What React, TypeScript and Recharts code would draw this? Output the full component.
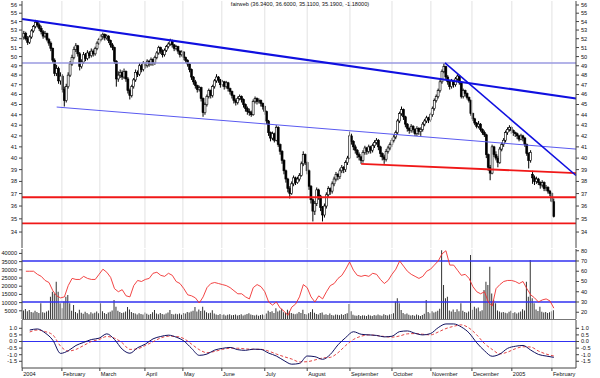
import { ComposedChart, Bar, Line, XAxis, YAxis, ReferenceLine } from 'recharts'

// daily candles [open, high, low, close], Jan 2004 - Feb 2005
const candles: [number, number, number, number][] = [
  [52.2, 52.9, 51.9, 52.6], [52.6, 52.8, 51.8, 52.0], [52.0, 52.3, 51.3, 51.6], [51.6, 52.4, 51.4, 52.2], [52.2, 53.1, 52.0, 52.9],
  [52.9, 53.6, 52.7, 53.4], [53.4, 54.2, 53.2, 53.9], [53.9, 54.1, 53.3, 53.6], [53.6, 53.8, 52.9, 53.2], [53.2, 53.5, 52.5, 52.8],
  [52.8, 53.0, 52.0, 52.3], [52.3, 52.9, 52.1, 52.6], [52.6, 52.7, 51.7, 51.9], [51.9, 52.1, 51.2, 51.5], [51.5, 51.7, 50.6, 50.9],
  [50.9, 51.0, 49.3, 49.6], [49.6, 49.8, 47.9, 48.2], [48.2, 49.1, 47.9, 48.7], [48.7, 48.9, 47.1, 47.4], [47.4, 48.3, 47.0, 47.9],
  [47.9, 48.1, 46.2, 46.5], [46.5, 46.8, 44.8, 45.4], [45.4, 47.1, 45.2, 46.8], [46.8, 48.3, 46.6, 48.0], [48.0, 49.5, 47.8, 49.2],
  [49.2, 50.2, 49.0, 49.9], [49.9, 51.1, 49.7, 50.8], [50.8, 51.5, 50.5, 51.2], [51.2, 51.3, 50.0, 50.3], [50.3, 50.5, 48.5, 48.9],
  [48.9, 49.7, 48.7, 49.4], [49.4, 50.5, 49.2, 50.2], [50.2, 50.4, 49.5, 49.8], [49.8, 50.7, 49.6, 50.4], [50.4, 50.6, 49.8, 50.1],
  [50.1, 50.9, 49.9, 50.6], [50.6, 50.8, 50.0, 50.3], [50.3, 51.1, 50.1, 50.9], [50.9, 51.7, 50.7, 51.5], [51.5, 52.1, 51.3, 51.9],
  [51.9, 52.5, 51.7, 52.3], [52.3, 52.7, 51.9, 52.5], [52.5, 52.6, 51.8, 52.1], [52.1, 52.5, 51.9, 52.3], [52.3, 52.4, 51.5, 51.8],
  [51.8, 51.9, 51.0, 51.3], [51.3, 51.5, 50.7, 51.0], [51.0, 51.1, 49.2, 49.5], [49.5, 49.6, 46.8, 47.6], [47.6, 48.4, 47.3, 48.0],
  [48.0, 48.6, 47.7, 48.3], [48.3, 48.5, 47.5, 47.8], [47.8, 48.7, 47.6, 48.4], [48.4, 48.5, 47.3, 47.6], [47.6, 47.8, 46.1, 46.4],
  [46.4, 46.6, 45.5, 45.9], [45.9, 47.0, 45.7, 46.8], [46.8, 47.7, 46.6, 47.5], [47.5, 48.6, 47.3, 48.3], [48.3, 48.5, 47.8, 48.1],
  [48.1, 49.3, 47.9, 49.0], [49.0, 49.2, 48.3, 48.6], [48.6, 49.5, 48.4, 49.3], [49.3, 49.4, 48.7, 49.0], [49.0, 49.7, 48.8, 49.5],
  [49.5, 49.6, 48.9, 49.2], [49.2, 49.9, 49.0, 49.7], [49.7, 49.8, 49.0, 49.3], [49.3, 50.1, 49.1, 49.9], [49.9, 50.6, 49.7, 50.4],
  [50.4, 51.2, 50.2, 51.0], [51.0, 51.1, 50.3, 50.6], [50.6, 50.8, 49.9, 50.2], [50.2, 50.9, 50.0, 50.7], [50.7, 51.3, 50.5, 51.1],
  [51.1, 51.6, 50.9, 51.4], [51.4, 52.0, 51.2, 51.8], [51.8, 51.9, 51.0, 51.3], [51.3, 51.4, 50.6, 50.9], [50.9, 51.3, 50.7, 51.1],
  [51.1, 51.2, 50.3, 50.6], [50.6, 50.7, 49.9, 50.2], [50.2, 50.7, 50.0, 50.5], [50.5, 50.6, 49.6, 49.9], [49.9, 50.0, 49.3, 49.6],
  [49.6, 49.7, 48.9, 49.2], [49.2, 49.3, 48.3, 48.6], [48.6, 48.7, 47.5, 47.8], [47.8, 47.9, 47.0, 47.3], [47.3, 47.5, 46.6, 46.9],
  [46.9, 47.0, 46.2, 46.5], [46.5, 46.9, 46.3, 46.7], [46.7, 46.8, 45.3, 45.6], [45.6, 45.7, 43.8, 44.2], [44.2, 45.2, 44.0, 45.0],
  [45.0, 46.0, 44.8, 45.8], [45.8, 46.6, 45.6, 46.4], [46.4, 46.5, 45.6, 45.9], [45.9, 47.0, 45.7, 46.8], [46.8, 47.6, 46.6, 47.4],
  [47.4, 48.1, 47.2, 47.8], [47.8, 47.9, 47.2, 47.5], [47.5, 47.6, 46.7, 47.0], [47.0, 47.5, 46.8, 47.3], [47.3, 47.4, 46.5, 46.8],
  [46.8, 47.4, 46.6, 47.2], [47.2, 47.3, 46.3, 46.6], [46.6, 46.7, 46.0, 46.3], [46.3, 46.4, 45.6, 45.9], [45.9, 46.0, 45.1, 45.4],
  [45.4, 45.6, 44.9, 45.2], [45.2, 45.8, 45.0, 45.6], [45.6, 46.0, 45.4, 45.8], [45.8, 45.9, 45.2, 45.5], [45.5, 45.6, 44.7, 45.0],
  [45.0, 45.1, 44.3, 44.6], [44.6, 44.8, 44.0, 44.3], [44.3, 44.6, 43.9, 44.2], [44.2, 44.4, 43.8, 44.0], [44.0, 45.5, 43.9, 45.3],
  [45.3, 45.8, 45.1, 45.6], [45.6, 45.7, 45.0, 45.3], [45.3, 45.6, 45.1, 45.4], [45.4, 45.5, 44.8, 45.1], [45.1, 45.2, 44.5, 44.8],
  [44.8, 44.9, 44.0, 44.3], [44.3, 44.4, 43.1, 43.4], [43.4, 43.5, 42.0, 42.3], [42.3, 42.4, 41.5, 41.8], [41.8, 42.4, 41.6, 42.2],
  [42.2, 42.3, 41.4, 41.6], [41.6, 43.0, 41.5, 42.8], [42.8, 42.9, 41.0, 41.2], [41.2, 41.3, 40.3, 40.6], [40.6, 40.7, 39.5, 39.8],
  [39.8, 39.9, 38.6, 38.9], [38.9, 39.0, 37.9, 38.2], [38.2, 38.3, 37.1, 37.4], [37.4, 37.6, 36.6, 37.0], [37.0, 38.0, 36.9, 37.8],
  [37.8, 38.5, 37.6, 38.3], [38.3, 38.4, 37.7, 37.9], [37.9, 38.4, 37.8, 38.2], [38.2, 38.7, 38.0, 38.5], [38.5, 39.7, 38.4, 39.5],
  [39.5, 40.6, 39.3, 40.3], [40.3, 40.4, 39.4, 39.6], [39.6, 39.7, 38.6, 38.9], [38.9, 39.0, 37.3, 37.6], [37.6, 37.7, 36.2, 36.5],
  [36.5, 36.6, 34.8, 35.6], [35.6, 36.4, 35.3, 36.2], [36.2, 37.5, 36.0, 37.3], [37.3, 37.4, 36.5, 36.8], [36.8, 36.9, 35.6, 35.9],
  [35.9, 36.0, 34.8, 35.3], [35.3, 36.2, 35.1, 36.0], [36.0, 37.1, 35.8, 36.9], [36.9, 37.6, 36.7, 37.4], [37.4, 37.5, 36.9, 37.2],
  [37.2, 38.0, 37.0, 37.8], [37.8, 38.4, 37.6, 38.2], [38.2, 38.8, 38.0, 38.6], [38.6, 38.7, 38.1, 38.4], [38.4, 39.1, 38.2, 38.9],
  [38.9, 39.4, 38.7, 39.2], [39.2, 39.3, 38.7, 39.0], [39.0, 39.8, 38.8, 39.6], [39.6, 40.2, 39.4, 40.0], [40.0, 42.4, 39.9, 42.0],
  [42.0, 42.2, 41.2, 41.5], [41.5, 41.6, 40.7, 41.0], [41.0, 41.2, 40.4, 40.7], [40.7, 40.8, 40.0, 40.3], [40.3, 40.5, 39.8, 40.1],
  [40.1, 40.2, 39.5, 39.8], [39.8, 40.7, 39.6, 40.5], [40.5, 41.1, 40.3, 40.9], [40.9, 41.0, 40.3, 40.6], [40.6, 41.2, 40.4, 41.0],
  [41.0, 41.1, 40.4, 40.7], [40.7, 41.3, 40.5, 41.1], [41.1, 41.6, 40.9, 41.4], [41.4, 41.8, 41.2, 41.6], [41.6, 41.7, 40.7, 41.0],
  [41.0, 41.1, 40.1, 40.4], [40.4, 40.5, 39.8, 40.1], [40.1, 40.3, 39.5, 39.9], [39.9, 40.8, 39.7, 40.6], [40.6, 41.1, 40.4, 40.9],
  [40.9, 41.4, 40.7, 41.2], [41.2, 41.8, 41.0, 41.6], [41.6, 42.1, 41.4, 41.9], [41.9, 42.5, 41.7, 42.3], [42.3, 43.6, 42.1, 43.4],
  [43.4, 44.3, 43.2, 44.1], [44.1, 44.8, 43.9, 44.5], [44.5, 44.6, 43.5, 43.8], [43.8, 43.9, 42.8, 43.1], [43.1, 43.2, 42.4, 42.7],
  [42.7, 42.8, 42.2, 42.5], [42.5, 43.1, 42.3, 42.9], [42.9, 43.0, 42.3, 42.6], [42.6, 42.7, 42.0, 42.2], [42.2, 42.9, 42.0, 42.7],
  [42.7, 42.8, 42.1, 42.4], [42.4, 42.8, 42.0, 42.6], [42.6, 43.3, 42.4, 43.1], [43.1, 43.6, 42.9, 43.4], [43.4, 43.9, 43.2, 43.7],
  [43.7, 43.8, 43.2, 43.5], [43.5, 44.2, 43.3, 44.0], [44.0, 44.8, 43.8, 44.6], [44.6, 45.6, 44.4, 45.4], [45.4, 46.0, 45.2, 45.8],
  [45.8, 46.6, 45.6, 46.4], [46.4, 47.5, 46.2, 47.3], [47.3, 48.6, 47.1, 48.4], [48.4, 49.3, 48.2, 48.9], [48.9, 49.0, 47.5, 47.8],
  [47.8, 48.0, 47.0, 47.3], [47.3, 47.4, 46.5, 46.8], [46.8, 47.6, 46.6, 47.4], [47.4, 47.5, 46.7, 47.0], [47.0, 47.8, 46.8, 47.6],
  [47.6, 48.1, 47.4, 47.9], [47.9, 48.0, 47.0, 47.2], [47.2, 47.3, 45.6, 45.8], [45.8, 46.6, 45.6, 46.4], [46.4, 46.5, 45.8, 46.1],
  [46.1, 46.2, 45.5, 45.7], [45.7, 45.8, 45.2, 45.4], [45.4, 45.5, 43.9, 44.1], [44.1, 44.2, 43.4, 43.6], [43.6, 43.7, 43.0, 43.2],
  [43.2, 43.3, 42.7, 42.9], [42.9, 43.4, 42.7, 43.1], [43.1, 43.2, 42.4, 42.6], [42.6, 42.7, 42.1, 42.3], [42.3, 42.5, 41.9, 42.1],
  [42.1, 42.2, 40.0, 40.3], [40.3, 40.4, 38.9, 39.2], [39.2, 39.4, 38.1, 38.7], [38.7, 41.2, 38.6, 41.0], [41.0, 41.1, 40.1, 40.3],
  [40.3, 40.6, 39.8, 40.0], [40.0, 40.2, 39.2, 39.6], [39.6, 41.0, 39.5, 40.8], [40.8, 41.4, 40.6, 41.2], [41.2, 41.8, 41.0, 41.6],
  [41.6, 42.5, 41.4, 42.3], [42.3, 42.8, 42.1, 42.6], [42.6, 43.0, 42.4, 42.8], [42.8, 42.9, 42.2, 42.5], [42.5, 42.6, 42.0, 42.3],
  [42.3, 42.4, 41.9, 42.2], [42.2, 42.3, 41.7, 42.0], [42.0, 42.1, 41.5, 41.7], [41.7, 42.2, 41.6, 42.0], [42.0, 42.1, 41.5, 41.8],
  [41.8, 41.9, 41.0, 41.2], [41.2, 41.3, 40.2, 40.4], [40.4, 40.5, 39.1, 39.8], [39.8, 40.7, 39.6, 40.5], [38.6, 38.9, 37.8, 38.3],
  [38.3, 38.5, 37.7, 38.0], [38.0, 38.4, 37.8, 38.2], [38.2, 38.3, 37.7, 37.9], [37.9, 38.0, 37.4, 37.7], [37.7, 38.1, 37.5, 37.9],
  [37.9, 38.0, 37.2, 37.4], [37.4, 37.7, 37.2, 37.5], [37.5, 37.6, 37.0, 37.2], [37.2, 37.3, 36.8, 37.0], [37.0, 37.1, 36.3, 36.37],
  [36.34, 36.6, 35.11, 35.19],
]

const volumes = [
  5200, 6100, 4800, 5500, 4300, 3900, 5000, 4200, 3600, 9600,
  4100, 3800, 4500, 5200, 13600, 16600, 15600, 22700, 16600, 9600,
  6500, 10600, 13600, 14700, 9600, 5000, 8500, 4200, 3500, 5600,
  3800, 3200, 4400, 3600, 2900, 4100, 3300, 3800, 4600, 3500,
  9600, 4800, 3600, 3100, 3900, 4400, 5200, 11600, 7500, 5100,
  4300, 3700, 3900, 4600, 7300, 5800, 4200, 3600, 3300, 2800,
  3500, 3000, 2700, 3900, 3200, 2600, 3100, 4100, 5500, 3300,
  2900, 3600, 3100, 2800, 3400, 4000, 5500, 3000, 2700, 3200,
  2900, 3400, 2600, 3700, 3300, 4200, 3900, 4500, 5100, 7300,
  4600, 5800, 4900, 7500, 5200, 4100, 3500, 3800, 5400, 3300,
  2800, 2500, 3000, 2400, 2700, 2200, 2600, 2900, 2300, 2500,
  2700, 2200, 2400, 2900, 2100, 2600, 3100, 3500, 2800, 2400,
  2200, 2600, 2000, 2400, 2800, 2300, 3400, 5000, 4200, 4800,
  3700, 6500, 4600, 5200, 6300, 4100, 3600, 5600, 4800, 3700,
  3200, 2900, 3300, 4200, 3600, 5600, 3100, 2800, 3500, 4300,
  5900, 3800, 3100, 2700, 3600, 4000, 2600, 2900, 2400, 3300,
  2500, 2200, 2800, 2600, 2300, 2900, 2500, 3100, 3500, 9200,
  4800, 2600, 2200, 2000, 2400, 1900, 2300, 2100, 1800, 2600,
  2200, 1900, 2400, 2100, 2700, 2300, 2000, 2900, 2500, 2200,
  2800, 3000, 3500, 10600, 12600, 9600, 5500, 3600, 2900, 3300,
  2600, 2200, 2400, 2000, 2700, 2300, 1900, 2500, 3200, 11600,
  4200, 3500, 4700, 3900, 4400, 5100, 6200, 42000, 20700, 12600,
  13600, 5200, 4600, 5800, 4300, 5900, 4800, 9600, 5100, 4200,
  3800, 4500, 39000, 5600, 7500, 6400, 7000, 4800, 5300, 17700,
  22700, 20700, 31900, 15600, 11600, 9600, 5200, 4600, 3900, 4200,
  3800, 3500, 4400, 5000, 3700, 4100, 3300, 3900, 4500, 6000,
  5200, 22700, 13600, 36000, 12600, 9600, 5800, 4900, 7500, 4400,
  3900, 4300, 3600, 4100, 4800, 5400,
]

// RSI read every second trading day (days 1, 3, 5, ... 275)
const rsi = [
  60, 60, 60, 57, 55, 51, 49, 41, 36, 34,
  35, 46, 53, 52, 52, 55, 53, 52, 52, 57,
  62, 59, 54, 43, 40, 42, 36, 35, 46, 51,
  50, 52, 53, 58, 59, 56, 55, 58, 56, 50,
  48, 43, 37, 36, 34, 29, 35, 44, 48, 49,
  48, 47, 46, 44, 41, 38, 38, 35, 33, 44,
  47, 45, 40, 30, 27, 30, 24, 21, 17, 25,
  28, 35, 47, 44, 35, 30, 36, 33, 40, 46,
  48, 53, 56, 62, 69, 61, 56, 55, 56, 55,
  58, 57, 52, 48, 51, 57, 62, 70, 65, 60,
  57, 55, 53, 55, 60, 62, 66, 70, 77, 80,
  66, 66, 61, 56, 57, 53, 45, 40, 38, 40,
  30, 26, 43, 47, 50, 51, 51, 50, 48, 50,
  43, 37, 34, 30, 32, 33, 31, 24,
]

// MACD and signal read every fourth trading day (days 3, 7, 11, ... 275)
const macd = [
  0.87, 0.95, 0.65, 0.1, -0.9, -0.7, -0.3, -0.07, 0.15, 0.25,
  0.58, 0.15, -0.58, -0.89, -0.47, -0.2, 0.2, 0.38, 0.48, 0.33,
  0.04, -0.52, -1.05, -0.95, -0.65, -0.52, -0.45, -0.62, -0.67, -0.58,
  -0.6, -0.88, -1.1, -1.45, -1.72, -1.66, -1.1, -1.15, -1.35, -0.98,
  -0.25, 0.3, 0.74, 0.55, 0.5, 0.46, 0.35, 0.4, 0.75, 0.8,
  0.62, 0.5, 0.6, 1.05, 1.33, 1.33, 1.1, 0.65, -0.1, -0.7,
  -1.12, -0.95, -0.52, -0.36, -0.3, -0.65, -0.98, -1.1, -1.2,
]
const signal = [
  0.72, 0.87, 0.75, 0.5, -0.35, -0.72, -0.6, -0.3, 0.0, 0.15,
  0.38, 0.25, -0.1, -0.6, -0.55, -0.3, -0.02, 0.27, 0.4, 0.38,
  0.22, -0.2, -0.62, -0.85, -0.75, -0.6, -0.51, -0.51, -0.56, -0.59,
  -0.59, -0.73, -0.95, -1.15, -1.33, -1.55, -1.53, -1.4, -1.25, -1.2,
  -0.85, -0.3, 0.15, 0.4, 0.5, 0.45, 0.38, 0.33, 0.42, 0.58,
  0.6, 0.55, 0.5, 0.72, 0.98, 1.15, 1.26, 1.02, 0.5, -0.15,
  -0.6, -0.94, -0.8, -0.55, -0.4, -0.42, -0.72, -0.95, -1.1,
]

const monthTicks = [-0.9, 19.7, 39.4, 62.8, 82.5, 102.7, 125, 147, 169.2, 191, 211.2, 232.5, 253.2, 274]
const monthLabels = ['2004', 'February', 'March', 'April', 'May', 'June', 'July', 'August', 'September', 'October', 'November', 'December', '2005', 'February']

const priceTicks = [34, 35, 36, 37, 38, 39, 40, 41, 42, 43, 44, 45, 46, 47, 48, 49, 50, 51, 52, 53, 54, 55, 56]
const volumeTicks = [5000, 10000, 15000, 20000, 25000, 30000, 35000, 40000]
const rsiTicks = [20, 30, 40, 50, 60, 70, 80]
const macdTicks = [-1.5, -1.0, -0.5, 0.0, 0.5, 1.0]

// trend lines drawn on the price panel: [startDay, startPrice, endDay, endPrice]
const blueTrends: [number, number, number, number][] = [[-1, 54.3, 286.5, 45.6], [218.5, 49.3, 286.5, 38.5]]
const thinBlueTrends: [number, number, number, number][] = [[17, 44.75, 286.5, 40.8]]
const redTrends: [number, number, number, number][] = [[175, 39.5, 286.5, 38.7], [-1, 36.7, 286.5, 36.7], [-1, 34.66, 286.5, 34.66]]
const resistance = 49.3

const FONT = 'Liberation Sans, Arial, sans-serif'
const X_DOMAIN: [number, number] = [-1, 286.5]
const LN56 = Math.log(56)
const PRICE_DOMAIN: [number, number] = [LN56 - 243 / 455, LN56 + 4 / 455]
const tickStyle = { fontSize: 5.6, fill: '#111', fontFamily: FONT }
const AXIS = '#444'
const GRID = '#e2e2e2'

const priceRows = candles.map(([o, h, l, c], i) => ({
  day: i,
  range: [Math.log(l), Math.log(h)],
  op: Math.log(o),
  cl: Math.log(c),
  hi: Math.log(h),
  lo: Math.log(l),
}))
const volumeRows = volumes.map((v, i) => ({ day: i, vol: v, rsi: i % 2 === 1 ? rsi[(i - 1) / 2] : undefined }))
const macdRows = macd.map((m, k) => ({ day: 3 + 4 * k, macd: m, signal: signal[k] }))

function Candle(props: any) {
  const { x, y, width, height, payload } = props
  if (!payload || !isFinite(y) || !isFinite(height)) return null
  const { op, cl, hi, lo } = payload
  const span = hi - lo
  const py = (v: number) => (span > 0 ? y + (height * (hi - v)) / span : y)
  const cx = x + width / 2
  const top = py(Math.max(op, cl))
  const bot = py(Math.min(op, cl))
  const up = cl >= op
  return (
    <g>
      <line x1={cx} x2={cx} y1={y} y2={y + height} stroke="#000" strokeWidth={1} />
      <rect x={cx - 1} y={top} width={2} height={Math.max(bot - top, 0.8)} fill={up ? '#fff' : '#000'} stroke="#000" strokeWidth={0.6} />
    </g>
  )
}

function MonthTick(props: any) {
  const { x, y, payload } = props
  const label = monthLabels[monthTicks.indexOf(payload.value)]
  return (
    <text x={x + 1} y={y + 3} fontSize={5.6} fontFamily={FONT} fill="#111" textAnchor="start">
      {label}
    </text>
  )
}

const gridLines = (axisId: string) =>
  monthTicks.slice(1).map((d) => <ReferenceLine key={`g${d}`} x={d} yAxisId={axisId} stroke={GRID} strokeWidth={1} />)

export default function App() {
  return (
    <div style={{ position: 'absolute', left: 0, top: 0, width: 600, height: 378, background: '#fff', overflow: 'hidden' }}>
      <div style={{ position: 'absolute', left: 0, top: 0 }}>
        <ComposedChart width={600} height={248} data={priceRows} margin={{ top: 1, right: 0, bottom: 0, left: 0 }}>
          <XAxis dataKey="day" type="number" domain={X_DOMAIN} allowDataOverflow hide />
          <YAxis yAxisId="l" type="number" domain={PRICE_DOMAIN} allowDataOverflow width={22} ticks={priceTicks.map(Math.log)}
            tickFormatter={(v: number) => String(Math.round(Math.exp(v)))} tick={tickStyle} tickSize={3} stroke={AXIS} interval={0} />
          <YAxis yAxisId="r" orientation="right" type="number" domain={PRICE_DOMAIN} allowDataOverflow width={24} ticks={priceTicks.map(Math.log)}
            tickFormatter={(v: number) => String(Math.round(Math.exp(v)))} tick={tickStyle} tickSize={3} stroke={AXIS} interval={0} />
          {gridLines('l')}
          <ReferenceLine yAxisId="l" y={Math.log(resistance)} stroke="#9a9ae0" strokeWidth={1.3} />
          {thinBlueTrends.map(([d1, p1, d2, p2], k) => (
            <ReferenceLine key={`tb${k}`} yAxisId="l" ifOverflow="visible" stroke="#5a5af0" strokeWidth={1}
              segment={[{ x: d1, y: Math.log(p1) }, { x: d2, y: Math.log(p2) }]} />
          ))}
          {redTrends.map(([d1, p1, d2, p2], k) => (
            <ReferenceLine key={`r${k}`} yAxisId="l" ifOverflow="visible" stroke="#f01818" strokeWidth={1.8}
              segment={[{ x: d1, y: Math.log(p1) }, { x: d2, y: Math.log(p2) }]} />
          ))}
          <Bar yAxisId="l" dataKey="range" barSize={2} isAnimationActive={false} shape={(p: any) => <Candle {...p} />} />
          {blueTrends.map(([d1, p1, d2, p2], k) => (
            <ReferenceLine key={`b${k}`} yAxisId="l" ifOverflow="visible" stroke="#1010e0" strokeWidth={k === 0 ? 2.2 : 1.6}
              segment={[{ x: d1, y: Math.log(p1) }, { x: d2, y: Math.log(p2) }]} />
          ))}
        </ComposedChart>
      </div>
      <div style={{ position: 'absolute', left: 0, top: 249 }}>
        <ComposedChart width={600} height={70} data={volumeRows} margin={{ top: 0, right: 0, bottom: 0, left: 0 }}>
          <XAxis dataKey="day" type="number" domain={X_DOMAIN} allowDataOverflow hide />
          <YAxis yAxisId="l" type="number" domain={[0, 42700]} allowDataOverflow width={22} ticks={volumeTicks}
            tick={tickStyle} tickSize={3} stroke={AXIS} interval={0} />
          <YAxis yAxisId="r" orientation="right" type="number" domain={[13.4, 81.7]} allowDataOverflow width={24} ticks={rsiTicks}
            tick={tickStyle} tickSize={3} stroke={AXIS} interval={0} />
          {gridLines('l')}
          <Bar yAxisId="l" dataKey="vol" barSize={1} fill="#333" isAnimationActive={false} />
          <ReferenceLine yAxisId="r" y={70} stroke="#3030f0" strokeWidth={1.3} />
          <ReferenceLine yAxisId="r" y={30} stroke="#3030f0" strokeWidth={1.3} />
          <Line yAxisId="r" dataKey="rsi" type="linear" stroke="#f03030" strokeWidth={0.9} dot={false} connectNulls isAnimationActive={false} />
        </ComposedChart>
      </div>
      <div style={{ position: 'absolute', left: 22, top: 319, width: 554, height: 1, background: '#777' }} />
      <div style={{ position: 'absolute', left: 0, top: 320 }}>
        <ComposedChart width={600} height={58} data={macdRows} margin={{ top: 0, right: 0, bottom: 0, left: 0 }}>
          <XAxis dataKey="day" type="number" domain={X_DOMAIN} allowDataOverflow ticks={monthTicks} interval={0}
            tick={<MonthTick />} tickSize={3} height={10} stroke={AXIS} />
          <YAxis yAxisId="l" type="number" domain={[-2.008, 1.629]} allowDataOverflow width={22} ticks={macdTicks}
            tickFormatter={(v: number) => v.toFixed(1)} tick={tickStyle} tickSize={3} stroke={AXIS} interval={0} />
          <YAxis yAxisId="r" orientation="right" type="number" domain={[-2.008, 1.629]} allowDataOverflow width={24} ticks={macdTicks}
            tickFormatter={(v: number) => v.toFixed(1)} tick={tickStyle} tickSize={3} stroke={AXIS} interval={0} />
          {gridLines('l')}
          <ReferenceLine yAxisId="l" y={0} stroke="#3030f0" strokeWidth={1.2} />
          <Line yAxisId="l" dataKey="signal" type="monotone" stroke="#e03030" strokeWidth={0.9} strokeDasharray="3 2" dot={false} isAnimationActive={false} />
          <Line yAxisId="l" dataKey="macd" type="monotone" stroke="#101060" strokeWidth={1} dot={false} isAnimationActive={false} />
        </ComposedChart>
      </div>
      <div style={{ position: 'absolute', left: 0, top: 1, width: 600, textAlign: 'center', fontFamily: FONT, fontSize: 5.6, color: '#111' }}>
        fairweb (36.3400, 36.6000, 35.1100, 35.1900, -1.18000)
      </div>
    </div>
  )
}
